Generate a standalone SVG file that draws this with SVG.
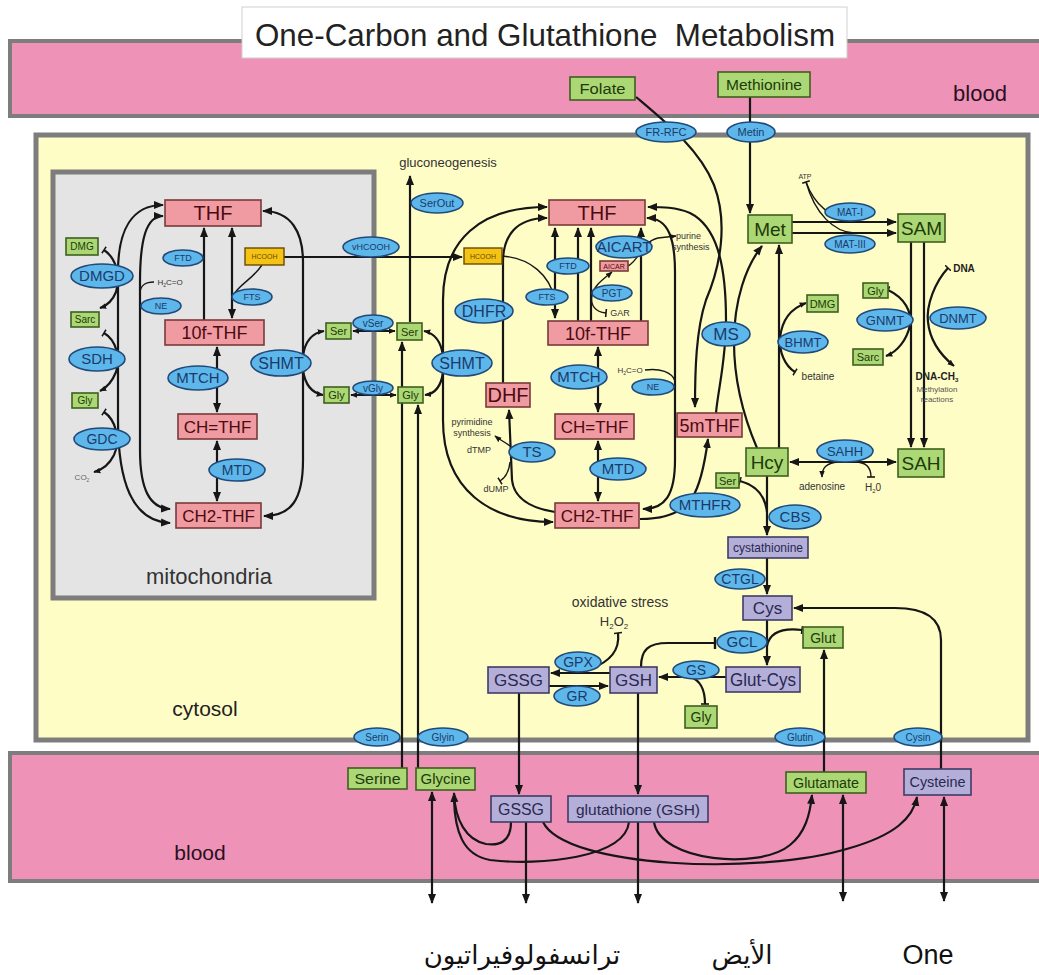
<svg xmlns="http://www.w3.org/2000/svg" width="1039" height="975" viewBox="0 0 1039 975">
<defs>
<style>
text{font-family:"Liberation Sans",Arial,sans-serif;text-anchor:middle}
.c{fill:none;stroke:#161616;stroke-width:2.2}
.cs{fill:none;stroke:#161616;stroke-width:1.4}
.pk{fill:#F09AA2;stroke:#7A3A3A;stroke-width:1.6}
.pkt{fill:#4a0c10}
.gr{fill:#ABD774;stroke:#3F5F1F;stroke-width:1.6}
.grt{fill:#1e3a0a}
.bl{fill:#5DB7EA;stroke:#214A7A;stroke-width:1.6}
.blt{fill:#1B3A6B}
.pu{fill:#B4AFD9;stroke:#3E3C66;stroke-width:1.6}
.put{fill:#2A2850}
.or{fill:#F5C316;stroke:#6a4b00;stroke-width:1.4}
.ort{fill:#6a4b00}
.sm{fill:#333}
</style>
<marker id="ah" viewBox="0 0 10 10" refX="9" refY="5" markerWidth="10" markerHeight="10" markerUnits="userSpaceOnUse" orient="auto-start-reverse"><path d="M0,1 L10,5 L0,9 z" fill="#161616"/></marker>
<marker id="as" viewBox="0 0 10 10" refX="9" refY="5" markerWidth="7" markerHeight="7" markerUnits="userSpaceOnUse" orient="auto-start-reverse"><path d="M0,1 L10,5 L0,9 z" fill="#161616"/></marker>
<marker id="tb" viewBox="0 0 10 10" refX="5" refY="5" markerWidth="8" markerHeight="8" markerUnits="userSpaceOnUse" orient="auto"><path d="M5,0 V10" stroke="#161616" stroke-width="2"/></marker>
<marker id="tbl" viewBox="0 0 10 10" refX="5" refY="5" markerWidth="12" markerHeight="12" markerUnits="userSpaceOnUse" orient="auto"><path d="M5,0 V10" stroke="#161616" stroke-width="2"/></marker>
</defs>
<rect width="1039" height="975" fill="#ffffff"/>
<g id="compartments">
<rect x="10" y="41" width="1040" height="75" fill="#EE93B7" stroke="#7d7d7d" stroke-width="4"/>
<rect x="10" y="753" width="1040" height="128" fill="#EE93B7" stroke="#7d7d7d" stroke-width="4"/>
<rect x="36" y="135" width="992" height="605" fill="#FFFDC6" stroke="#7d7d7d" stroke-width="5"/>
<rect x="53" y="172" width="321" height="426" fill="#E4E4E4" stroke="#7d7d7d" stroke-width="5"/>
<text x="980" y="101" font-size="22" fill="#2a1020">blood</text>
<text x="200" y="860" font-size="21" fill="#2a1020">blood</text>
<text x="205" y="716" font-size="21" fill="#222">cytosol</text>
<text x="209" y="584" font-size="22" fill="#333">mitochondria</text>
</g>
<g id="title">
<rect x="242" y="7" width="605" height="51" fill="#ffffff" stroke="#cfcfcf" stroke-width="1"/>
<text x="545" y="46" font-size="32" fill="#222" style="white-space:pre" textLength="580" lengthAdjust="spacingAndGlyphs">One-Carbon and Glutathione  Metabolism</text>
</g>
<g id="connectors">
<path class="c" d="M163,205 C132,205 118,230 118,272 L118,420 C118,482 132,521 170,523" marker-start="url(#ah)" marker-end="url(#ah)"/>
<path class="c" d="M163,216 C146,216 140,240 140,282 L140,450 C140,490 150,508 170,509" marker-start="url(#ah)" marker-end="url(#ah)"/>
<path class="c" d="M263,211 C291,211 303,232 303,262 L303,460 C303,500 291,516 264,516" marker-start="url(#ah)" marker-end="url(#ah)"/>
<path class="c" d="M204,320 L204,228" marker-end="url(#ah)"/>
<path class="c" d="M232,228 L232,318" marker-start="url(#ah)" marker-end="url(#ah)"/>
<path class="cs" d="M262,265 C252,280 238,285 233,296"/>
<path class="c" d="M217,347 L217,412" marker-start="url(#ah)" marker-end="url(#ah)"/>
<path class="c" d="M217,441 L217,501" marker-start="url(#ah)" marker-end="url(#ah)"/>
<path class="cs" d="M140,292 C141,285 145,282 154,282"/>
<path class="c" d="M104,250 C116,258 121,276 116,292 C112,302 106,306 100,308" marker-start="url(#tb)" marker-end="url(#as)"/>
<path class="c" d="M104,333 C116,340 121,358 116,372 C112,382 106,388 100,391" marker-start="url(#tb)" marker-end="url(#as)"/>
<path class="c" d="M104,412 C116,420 121,440 114,455 C109,465 102,470 94,472" marker-start="url(#tb)" marker-end="url(#as)"/>
<path class="c" d="M303,356 C305,341 312,333 324,331" marker-end="url(#as)"/>
<path class="c" d="M303,370 C305,385 312,393 323,395" marker-end="url(#as)"/>
<path class="c" d="M353,331 L395,331" marker-start="url(#as)" marker-end="url(#as)"/>
<path class="c" d="M351,395 L396,395" marker-start="url(#as)" marker-end="url(#as)"/>
<path class="c" d="M284,257 L462,257" marker-end="url(#ah)"/>
<path class="c" d="M410,322 L410,176" marker-end="url(#ah)"/>
<path class="c" d="M402,768 L402,342" marker-end="url(#ah)"/>
<path class="c" d="M418,768 L418,405" marker-end="url(#ah)"/>
<path class="c" d="M443,356 C441,341 434,333 424,331" marker-end="url(#as)"/>
<path class="c" d="M443,372 C441,388 434,394 425,395" marker-end="url(#as)"/>
<path class="c" d="M547,207 C480,207 443,240 443,300 L443,420 C443,490 490,522 553,522" marker-start="url(#ah)" marker-end="url(#ah)"/>
<path class="c" d="M503,383 L503,262 C503,236 516,218 547,218" marker-end="url(#ah)"/>
<path class="c" d="M555,512 C530,508 514,498 512,480 L509,410" marker-end="url(#ah)"/>
<path class="cs" d="M510,446 C505,442 500,440 495,436" marker-end="url(#as)"/>
<path class="cs" d="M510,462 C509,472 505,478 500,481" marker-end="url(#tb)"/>
<path class="cs" d="M502,256 C530,258 550,275 555,300"/>
<path class="c" d="M555,228 L555,318" marker-start="url(#ah)" marker-end="url(#ah)"/>
<path class="c" d="M578,321 L578,228" marker-end="url(#ah)"/>
<path class="c" d="M591,321 L591,228" marker-end="url(#ah)"/>
<path class="c" d="M641,321 L641,228" marker-end="url(#ah)"/>
<path class="cs" d="M606,313 C595,312 590,305 592,295 C594,285 605,278 612,272" marker-start="url(#tb)" marker-end="url(#as)"/>
<path class="cs" d="M628,266 C640,260 641,242 658,238 L676,236" marker-end="url(#as)"/>
<path class="c" d="M598,347 L598,412" marker-start="url(#ah)" marker-end="url(#ah)"/>
<path class="c" d="M598,441 L598,501" marker-start="url(#ah)" marker-end="url(#ah)"/>
<path class="c" d="M647,218 C669,218 675,240 675,272 L675,460 C675,495 665,509 643,509" marker-start="url(#ah)" marker-end="url(#ah)"/>
<path class="cs" d="M645,370 C660,368 672,372 675,381"/>
<path class="c" d="M716,413 C718,390 726,360 726,320 C726,262 716,226 690,213 C676,207 662,207 648,207" marker-end="url(#ah)"/>
<path class="c" d="M636,97 C668,124 700,150 714,185 C728,222 721,265 706,300 C696,330 695,370 695,407" marker-end="url(#ah)"/>
<path class="c" d="M757,448 C745,420 734,382 734,342 C734,300 746,266 762,246" marker-end="url(#ah)"/>
<path class="c" d="M640,519 C662,519 682,514 692,498 C701,484 705,462 708,439" marker-end="url(#ah)"/>
<path class="c" d="M750,97 L750,213" marker-end="url(#ah)"/>
<path class="c" d="M792,222 L896,222" marker-end="url(#ah)"/>
<path class="c" d="M792,233 L896,233" marker-end="url(#ah)"/>
<path class="cs" d="M806,182 C814,204 830,218 854,222" marker-start="url(#tb)"/>
<path class="cs" d="M806,182 C815,214 834,232 854,233"/>
<path class="c" d="M911,242 L911,447" marker-end="url(#ah)"/>
<path class="c" d="M924,242 L924,447" marker-end="url(#ah)"/>
<path class="c" d="M888,290 C905,298 912,312 910,325 C907,340 897,352 886,356" marker-start="url(#tb)" marker-end="url(#as)"/>
<path class="c" d="M948,268 C935,282 926,305 928,322 C930,342 943,357 954,366" marker-start="url(#tb)" marker-end="url(#as)"/>
<path class="c" d="M779,448 L779,245" marker-end="url(#ah)"/>
<path class="c" d="M795,372 C785,366 779,352 780,338 C782,318 792,308 806,303" marker-start="url(#tb)" marker-end="url(#as)"/>
<path class="c" d="M790,462 L896,462" marker-start="url(#ah)" marker-end="url(#ah)"/>
<path class="cs" d="M838,462 C826,463 822,468 822,477" marker-end="url(#as)"/>
<path class="cs" d="M855,462 C866,462 871,468 871,477" marker-end="url(#tb)"/>
<path class="c" d="M767,476 L767,535" marker-end="url(#ah)"/>
<path class="c" d="M740,481 C755,485 765,495 767,512" marker-start="url(#tb)"/>
<path class="c" d="M767,558 L767,594" marker-end="url(#ah)"/>
<path class="c" d="M767,620 L767,665" marker-end="url(#ah)"/>
<path class="c" d="M802,630 C785,628 770,631 767,646" marker-start="url(#tb)"/>
<path class="c" d="M641,667 C641,650 648,643 668,643 L715,643" marker-end="url(#tbl)"/>
<path class="c" d="M726,677 L659,677" marker-end="url(#ah)"/>
<path class="c" d="M705,704 C705,690 700,680 690,677" marker-start="url(#tb)"/>
<path class="c" d="M610,673 L551,673" marker-end="url(#ah)"/>
<path class="c" d="M618,633 C620,650 610,662 590,669" marker-start="url(#tb)"/>
<path class="c" d="M549,686 L608,686" marker-end="url(#ah)"/>
<path class="c" d="M824,772 L824,650" marker-end="url(#ah)"/>
<path class="c" d="M941,769 L941,640 C941,618 925,608 895,608 L794,608" marker-end="url(#ah)"/>
<path class="c" d="M519,693 L519,794" marker-end="url(#ah)"/>
<path class="c" d="M638,693 L638,794" marker-end="url(#ah)"/>
<path class="c" d="M432,792 L432,903" marker-start="url(#ah)" marker-end="url(#ah)"/>
<path class="c" d="M526,822 L526,903" marker-end="url(#ah)"/>
<path class="c" d="M638,822 L638,903" marker-end="url(#ah)"/>
<path class="c" d="M843,795 L843,901" marker-start="url(#ah)" marker-end="url(#ah)"/>
<path class="c" d="M944,797 L944,901" marker-start="url(#ah)" marker-end="url(#ah)"/>
<path class="c" d="M511,822 C511,842 499,846 486,844 C466,840 455,820 454,793" marker-end="url(#ah)"/>
<path class="c" d="M629,822 C625,858 540,866 490,860 C462,855 455,830 454,800"/>
<path class="c" d="M543,822 C565,868 760,876 850,848 C895,835 913,818 917,797" marker-end="url(#ah)"/>
<path class="c" d="M654,822 C660,862 760,870 790,845 C805,833 810,815 812,795" marker-end="url(#ah)"/>
</g>
<g id="small-labels">
<text x="170" y="285" font-size="8" class="sm">H<tspan font-size="5" dy="2">2</tspan><tspan dy="-2">C=O</tspan></text>
<text x="630" y="373" font-size="8" class="sm">H<tspan font-size="5" dy="2">2</tspan><tspan dy="-2">C=O</tspan></text>
<text x="82" y="480" font-size="8" fill="#666">CO<tspan font-size="5" dy="2">2</tspan></text>
<text x="448" y="167" font-size="13" fill="#333">gluconeogenesis</text>
<text x="472" y="425" font-size="9" class="sm">pyrimidine</text>
<text x="472" y="436" font-size="9" class="sm">synthesis</text>
<text x="479" y="453" font-size="9" class="sm">dTMP</text>
<text x="496" y="492" font-size="9" class="sm">dUMP</text>
<text x="620" y="316" font-size="9" class="sm">GAR</text>
<text x="676" y="239" font-size="9" class="sm" style="text-anchor:start">purine</text>
<text x="672" y="250" font-size="9" class="sm" style="text-anchor:start">synthesis</text>
<text x="805" y="179" font-size="7" class="sm">ATP</text>
<text x="964" y="272" font-size="10" font-weight="bold" fill="#222">DNA</text>
<text x="937" y="380" font-size="10" font-weight="bold" fill="#222">DNA-CH<tspan font-size="6" dy="2">3</tspan></text>
<text x="937" y="392" font-size="8" fill="#555">Methylation</text>
<text x="937" y="402" font-size="8" fill="#555">reactions</text>
<text x="818" y="380" font-size="10" class="sm">betaine</text>
<text x="822" y="490" font-size="10" class="sm">adenosine</text>
<text x="873" y="491" font-size="10" class="sm">H<tspan font-size="6" dy="2">2</tspan><tspan dy="-2">0</tspan></text>
<text x="620" y="607" font-size="14" fill="#333">oxidative stress</text>
<text x="614" y="626" font-size="13" fill="#333">H<tspan font-size="8" dy="3">2</tspan><tspan dy="-3">O</tspan><tspan font-size="8" dy="3">2</tspan></text>
</g>
<g id="bottom-labels">
<text x="522" y="964" font-size="26" fill="#111" style="font-family:'DejaVu Sans',sans-serif">ترانسفولوفيراتيون</text>
<text x="742" y="964" font-size="26" fill="#111" style="font-family:'DejaVu Sans',sans-serif">الأيض</text>
<text x="928" y="964" font-size="27" fill="#111">One</text>
</g>
<g id="THF_m"><rect class="pk" x="165" y="200" width="96" height="26"/><text class="pkt" x="213" y="220" font-size="20">THF</text></g>
<g id="f10THF_m"><rect class="pk" x="165" y="320" width="99" height="25"/><text class="pkt" x="214.5" y="339" font-size="18">10f-THF</text></g>
<g id="CHTHF_m"><rect class="pk" x="178" y="414" width="79" height="25"/><text class="pkt" x="217.5" y="432.5" font-size="17">CH=THF</text></g>
<g id="CH2THF_m"><rect class="pk" x="176" y="503" width="85" height="25"/><text class="pkt" x="218.5" y="521.5" font-size="17">CH2-THF</text></g>
<g id="THF_c"><rect class="pk" x="549" y="200" width="96" height="25"/><text class="pkt" x="597" y="219.5" font-size="20">THF</text></g>
<g id="f10THF_c"><rect class="pk" x="548" y="321" width="100" height="24"/><text class="pkt" x="598" y="339.5" font-size="18">10f-THF</text></g>
<g id="CHTHF_c"><rect class="pk" x="555" y="414" width="79" height="25"/><text class="pkt" x="594.5" y="432.5" font-size="17">CH=THF</text></g>
<g id="CH2THF_c"><rect class="pk" x="555" y="503" width="84" height="25"/><text class="pkt" x="597" y="521.5" font-size="17">CH2-THF</text></g>
<g id="DHF"><rect class="pk" x="486" y="383" width="44" height="24"/><text class="pkt" x="508" y="402" font-size="20">DHF</text></g>
<g id="mTHF5"><rect class="pk" x="677" y="413" width="65" height="24"/><text class="pkt" x="709.5" y="431.5" font-size="18">5mTHF</text></g>
<g id="AICAR"><rect class="pk" x="600" y="261" width="28" height="10"/><text class="pkt" x="614" y="268.5" font-size="7">AICAR</text></g>
<g id="HCOOH_m"><rect class="or" x="245" y="248" width="39" height="17"/><text class="ort" x="264.5" y="259" font-size="7">HCOOH</text></g>
<g id="HCOOH_c"><rect class="or" x="464" y="248" width="38" height="16"/><text class="ort" x="483" y="258.5" font-size="7">HCOOH</text></g>
<g id="DMG_m"><rect class="gr" x="66" y="238" width="32" height="17"/><text class="grt" x="82" y="250" font-size="10">DMG</text></g>
<g id="Sarc_m"><rect class="gr" x="71" y="312" width="28" height="15"/><text class="grt" x="85" y="323" font-size="10">Sarc</text></g>
<g id="Gly_m1"><rect class="gr" x="72" y="393" width="26" height="15"/><text class="grt" x="85" y="404" font-size="10">Gly</text></g>
<g id="Ser_m"><rect class="gr" x="326" y="323" width="25" height="16"/><text class="grt" x="338.5" y="335" font-size="11">Ser</text></g>
<g id="Gly_m"><rect class="gr" x="324" y="387" width="25" height="16"/><text class="grt" x="336.5" y="399" font-size="11">Gly</text></g>
<g id="Ser_c"><rect class="gr" x="397" y="323" width="25" height="17"/><text class="grt" x="409.5" y="335.5" font-size="11">Ser</text></g>
<g id="Gly_c"><rect class="gr" x="398" y="387" width="25" height="16"/><text class="grt" x="410.5" y="399" font-size="11">Gly</text></g>
<g id="Folate"><rect class="gr" x="570" y="77" width="65" height="23"/><text class="grt" x="602.5" y="93.5" font-size="14" textLength="46" lengthAdjust="spacingAndGlyphs">Folate</text></g>
<g id="Methionine"><rect class="gr" x="718" y="72" width="92" height="25"/><text class="grt" x="764" y="89.5" font-size="14" textLength="76" lengthAdjust="spacingAndGlyphs">Methionine</text></g>
<g id="Met"><rect class="gr" x="748" y="215" width="44" height="28"/><text class="grt" x="770" y="236" font-size="19">Met</text></g>
<g id="SAM"><rect class="gr" x="898" y="214" width="47" height="28"/><text class="grt" x="921.5" y="235" font-size="19">SAM</text></g>
<g id="DMG_r"><rect class="gr" x="807" y="295" width="31" height="17"/><text class="grt" x="822.5" y="307.5" font-size="11">DMG</text></g>
<g id="Gly_r"><rect class="gr" x="863" y="283" width="25" height="15"/><text class="grt" x="875.5" y="294.5" font-size="11">Gly</text></g>
<g id="Sarc_r"><rect class="gr" x="853" y="349" width="30" height="16"/><text class="grt" x="868" y="361" font-size="11">Sarc</text></g>
<g id="Hcy"><rect class="gr" x="746" y="448" width="42" height="28"/><text class="grt" x="767" y="469" font-size="19">Hcy</text></g>
<g id="SAH"><rect class="gr" x="898" y="449" width="46" height="28"/><text class="grt" x="921" y="470" font-size="19">SAH</text></g>
<g id="Ser_r"><rect class="gr" x="716" y="473" width="23" height="15"/><text class="grt" x="727.5" y="484.5" font-size="11">Ser</text></g>
<g id="Glut"><rect class="gr" x="803" y="627" width="40" height="21"/><text class="grt" x="823" y="642.5" font-size="14">Glut</text></g>
<g id="Gly_gs"><rect class="gr" x="685" y="706" width="32" height="22"/><text class="grt" x="701" y="722" font-size="14">Gly</text></g>
<g id="Serine"><rect class="gr" x="348" y="768" width="59" height="21"/><text class="grt" x="377.5" y="783.5" font-size="14" textLength="46" lengthAdjust="spacingAndGlyphs">Serine</text></g>
<g id="Glycine"><rect class="gr" x="416" y="768" width="59" height="22"/><text class="grt" x="445.5" y="784" font-size="14" textLength="50" lengthAdjust="spacingAndGlyphs">Glycine</text></g>
<g id="Glutamate"><rect class="gr" x="786" y="772" width="80" height="21"/><text class="grt" x="826" y="787.5" font-size="14" textLength="66" lengthAdjust="spacingAndGlyphs">Glutamate</text></g>
<g id="cystathionine"><rect class="pu" x="728" y="537" width="80" height="21"/><text class="put" x="768" y="552" font-size="13" textLength="70" lengthAdjust="spacingAndGlyphs">cystathionine</text></g>
<g id="Cys"><rect class="pu" x="743" y="596" width="49" height="24"/><text class="put" x="767.5" y="614" font-size="17">Cys</text></g>
<g id="GlutCys"><rect class="pu" x="726" y="667" width="74" height="25"/><text class="put" x="763" y="685.5" font-size="18" textLength="66" lengthAdjust="spacingAndGlyphs">Glut-Cys</text></g>
<g id="GSH"><rect class="pu" x="610" y="667" width="47" height="26"/><text class="put" x="633.5" y="686" font-size="17">GSH</text></g>
<g id="GSSG"><rect class="pu" x="488" y="667" width="61" height="26"/><text class="put" x="518.5" y="686" font-size="17">GSSG</text></g>
<g id="GSSG_b"><rect class="pu" x="491" y="796" width="60" height="26"/><text class="put" x="521" y="815" font-size="16" textLength="46" lengthAdjust="spacingAndGlyphs">GSSG</text></g>
<g id="glutathione_b"><rect class="pu" x="568" y="796" width="140" height="26"/><text class="put" x="638" y="814.5" font-size="15" textLength="124" lengthAdjust="spacingAndGlyphs">glutathione (GSH)</text></g>
<g id="Cysteine"><rect class="pu" x="904" y="769" width="67" height="26"/><text class="put" x="937.5" y="786.5" font-size="14" textLength="56" lengthAdjust="spacingAndGlyphs">Cysteine</text></g>
<g id="FTD_m"><ellipse class="bl" cx="183" cy="258" rx="20" ry="8"/><text class="blt" x="183" y="261" font-size="9">FTD</text></g>
<g id="NE_m"><ellipse class="bl" cx="161" cy="306" rx="20" ry="8"/><text class="blt" x="161" y="309" font-size="9">NE</text></g>
<g id="FTS_m"><ellipse class="bl" cx="252" cy="297" rx="20" ry="8"/><text class="blt" x="252" y="300" font-size="9">FTS</text></g>
<g id="DMGD"><ellipse class="bl" cx="102" cy="276" rx="31" ry="12"/><text class="blt" x="102" y="281" font-size="15">DMGD</text></g>
<g id="SDH"><ellipse class="bl" cx="97" cy="359" rx="28" ry="12"/><text class="blt" x="97" y="364" font-size="15">SDH</text></g>
<g id="GDC"><ellipse class="bl" cx="102" cy="439" rx="28" ry="11"/><text class="blt" x="102" y="444" font-size="14">GDC</text></g>
<g id="MTCH_m"><ellipse class="bl" cx="198" cy="378" rx="30" ry="12"/><text class="blt" x="198" y="383" font-size="15">MTCH</text></g>
<g id="MTD_m"><ellipse class="bl" cx="237" cy="470" rx="28" ry="11"/><text class="blt" x="237" y="475" font-size="14">MTD</text></g>
<g id="SHMT_m"><ellipse class="bl" cx="281" cy="363" rx="30" ry="13"/><text class="blt" x="281" y="369" font-size="16">SHMT</text></g>
<g id="vSer"><ellipse class="bl" cx="373" cy="323" rx="20" ry="8"/><text class="blt" x="373" y="326.5" font-size="10">vSer</text></g>
<g id="vGly"><ellipse class="bl" cx="373" cy="388" rx="20" ry="7"/><text class="blt" x="373" y="391.5" font-size="10">vGly</text></g>
<g id="vHCOOH"><ellipse class="bl" cx="371" cy="247" rx="28" ry="10"/><text class="blt" x="371" y="250" font-size="9">vHCOOH</text></g>
<g id="SerOut"><ellipse class="bl" cx="437" cy="203" rx="26" ry="10"/><text class="blt" x="437" y="207" font-size="11">SerOut</text></g>
<g id="SHMT_c"><ellipse class="bl" cx="462" cy="363" rx="30" ry="13"/><text class="blt" x="462" y="369" font-size="16">SHMT</text></g>
<g id="DHFR"><ellipse class="bl" cx="484" cy="311" rx="29" ry="12"/><text class="blt" x="484" y="317" font-size="16">DHFR</text></g>
<g id="FTD_c"><ellipse class="bl" cx="568" cy="266" rx="21" ry="8"/><text class="blt" x="568" y="269" font-size="9">FTD</text></g>
<g id="FTS_c"><ellipse class="bl" cx="547" cy="297" rx="21" ry="8"/><text class="blt" x="547" y="300" font-size="9">FTS</text></g>
<g id="AICART"><ellipse class="bl" cx="624" cy="247" rx="28" ry="11"/><text class="blt" x="624" y="252" font-size="15">AICART</text></g>
<g id="PGT"><ellipse class="bl" cx="612" cy="293" rx="20" ry="8"/><text class="blt" x="612" y="296.5" font-size="10">PGT</text></g>
<g id="MTCH_c"><ellipse class="bl" cx="579" cy="377" rx="28" ry="12"/><text class="blt" x="579" y="382" font-size="15">MTCH</text></g>
<g id="NE_c"><ellipse class="bl" cx="653" cy="387" rx="21" ry="8"/><text class="blt" x="653" y="390" font-size="9">NE</text></g>
<g id="MS"><ellipse class="bl" cx="726" cy="334" rx="24" ry="12"/><text class="blt" x="726" y="340" font-size="17">MS</text></g>
<g id="TS"><ellipse class="bl" cx="532" cy="452" rx="23" ry="10"/><text class="blt" x="532" y="457" font-size="15">TS</text></g>
<g id="MTD_c"><ellipse class="bl" cx="618" cy="469" rx="28" ry="11"/><text class="blt" x="618" y="474" font-size="15">MTD</text></g>
<g id="MTHFR"><ellipse class="bl" cx="705" cy="505" rx="35" ry="12"/><text class="blt" x="705" y="510" font-size="15">MTHFR</text></g>
<g id="MAT-I"><ellipse class="bl" cx="850" cy="212" rx="25" ry="9"/><text class="blt" x="850" y="215.5" font-size="10">MAT-I</text></g>
<g id="MAT-III"><ellipse class="bl" cx="850" cy="244" rx="25" ry="9"/><text class="blt" x="850" y="247.5" font-size="10">MAT-III</text></g>
<g id="Metin"><ellipse class="bl" cx="751" cy="132" rx="24" ry="10"/><text class="blt" x="751" y="136" font-size="11">Metin</text></g>
<g id="FR-RFC"><ellipse class="bl" cx="666" cy="132" rx="30" ry="10"/><text class="blt" x="666" y="136" font-size="11">FR-RFC</text></g>
<g id="BHMT"><ellipse class="bl" cx="803" cy="342" rx="25" ry="11"/><text class="blt" x="803" y="346.5" font-size="13">BHMT</text></g>
<g id="GNMT"><ellipse class="bl" cx="885" cy="320" rx="28" ry="11"/><text class="blt" x="885" y="324.5" font-size="13">GNMT</text></g>
<g id="DNMT"><ellipse class="bl" cx="958" cy="318" rx="28" ry="11"/><text class="blt" x="958" y="322.5" font-size="13">DNMT</text></g>
<g id="SAHH"><ellipse class="bl" cx="845" cy="451" rx="28" ry="11"/><text class="blt" x="845" y="455.5" font-size="13">SAHH</text></g>
<g id="CBS"><ellipse class="bl" cx="795" cy="517" rx="26" ry="12"/><text class="blt" x="795" y="522" font-size="15">CBS</text></g>
<g id="CTGL"><ellipse class="bl" cx="740" cy="579" rx="25" ry="10"/><text class="blt" x="740" y="584" font-size="14">CTGL</text></g>
<g id="GCL"><ellipse class="bl" cx="742" cy="642" rx="25" ry="11"/><text class="blt" x="742" y="647" font-size="15">GCL</text></g>
<g id="GS"><ellipse class="bl" cx="696" cy="670" rx="23" ry="9"/><text class="blt" x="696" y="675" font-size="14">GS</text></g>
<g id="GPX"><ellipse class="bl" cx="578" cy="662" rx="23" ry="10"/><text class="blt" x="578" y="667" font-size="14">GPX</text></g>
<g id="GR"><ellipse class="bl" cx="577" cy="696" rx="23" ry="10"/><text class="blt" x="577" y="701" font-size="14">GR</text></g>
<g id="Serin"><ellipse class="bl" cx="377" cy="737" rx="23" ry="9"/><text class="blt" x="377" y="740.5" font-size="10">Serin</text></g>
<g id="Glyin"><ellipse class="bl" cx="443" cy="737" rx="25" ry="9"/><text class="blt" x="443" y="740.5" font-size="10">Glyin</text></g>
<g id="Glutin"><ellipse class="bl" cx="800" cy="737" rx="25" ry="9"/><text class="blt" x="800" y="740.5" font-size="10">Glutin</text></g>
<g id="Cysin"><ellipse class="bl" cx="918" cy="737" rx="24" ry="9"/><text class="blt" x="918" y="740.5" font-size="10">Cysin</text></g>
</svg>
